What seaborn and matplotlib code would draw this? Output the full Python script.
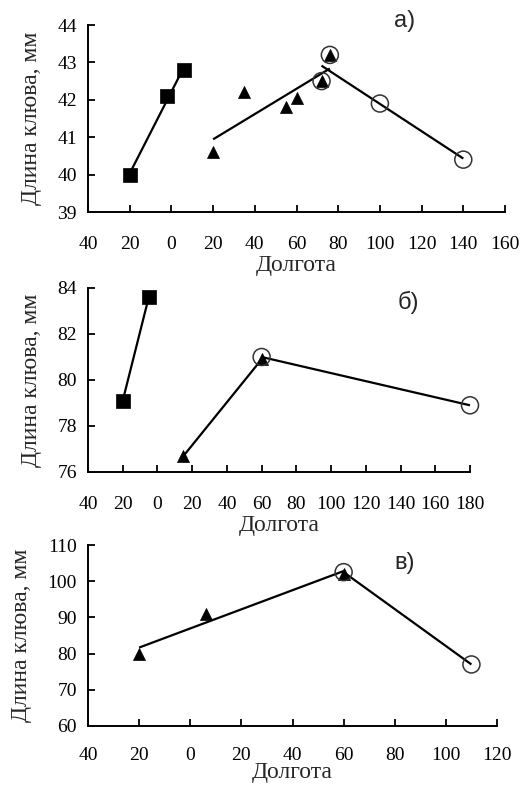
import matplotlib
matplotlib.use("Agg")
import matplotlib.pyplot as plt
from matplotlib.ticker import FuncFormatter, MultipleLocator
import numpy as np
import pandas as pd
import seaborn as sns

sns.set_style("ticks")
plt.rcParams["font.family"] = ["Liberation Serif", "DejaVu Serif"]

# Panel а): beak length vs longitude (west longitudes are negative)
a_sq_x = [-20, -2, 6]
a_sq_y = [40.0, 42.1, 42.8]
a_tri_x = [20, 35, 55, 60, 72, 76]
a_tri_y = [40.6, 42.2, 41.8, 42.05, 42.5, 43.2]
a_cir_x = [72, 76, 100, 140]
a_cir_y = [42.5, 43.2, 41.9, 40.4]

# Panel б)
b_sq_x = [-20, -5]
b_sq_y = [79.1, 83.6]
b_tri_x = [15, 60]
b_tri_y = [76.7, 80.9]
b_cir_x = [60, 180]
b_cir_y = [81.0, 78.9]

# Panel в)
c_tri_x = [-20, 6, 60]
c_tri_y = [80.0, 91.0, 102.0]
c_cir_x = [60, 110]
c_cir_y = [102.5, 77.0]

YLABEL = "Длина клюва, мм"
XLABEL = "Долгота"

fig = plt.figure(figsize=(5.31, 7.87), dpi=100)

abs_fmt = FuncFormatter(lambda v, p: f"{abs(v):.0f}")


def series(ax, xs, ys, marker, filled, size):
    df = pd.DataFrame({"x": xs, "y": ys})
    sns.regplot(data=df, x="x", y="y", ax=ax, scatter=False, ci=None,
                color="black", line_kws={"lw": 1.6, "solid_capstyle": "butt"})
    if filled:
        sns.scatterplot(data=df, x="x", y="y", ax=ax, marker=marker, s=size,
                        color="black", edgecolor="black", linewidth=0.5,
                        zorder=3, clip_on=False)
    else:
        sns.scatterplot(data=df, x="x", y="y", ax=ax, marker=marker, s=size,
                        facecolor="none", edgecolor="#333333", linewidth=1.1,
                        zorder=4, clip_on=False)


def style(ax, xlim, ylim, ystep, tag, tag_xy, xpad, xlabelpad):
    ax.set_xlim(*xlim)
    ax.set_ylim(*ylim)
    ax.xaxis.set_major_locator(MultipleLocator(20))
    ax.yaxis.set_major_locator(MultipleLocator(ystep))
    ax.xaxis.set_major_formatter(abs_fmt)
    ax.yaxis.set_major_formatter(FuncFormatter(lambda v, p: f"{v:.0f}"))
    sns.despine(ax=ax)
    for s in ("left", "bottom"):
        ax.spines[s].set_linewidth(1.4)
        ax.spines[s].set_color("black")
    ax.tick_params(axis="both", direction="in", length=5, width=1.3,
                   labelsize=14, colors="black")
    ax.tick_params(axis="x", pad=xpad)
    ax.tick_params(axis="y", pad=8)
    ax.set_xlabel(XLABEL, fontsize=17, labelpad=xlabelpad)
    ax.set_ylabel(YLABEL, fontsize=17, labelpad=11)
    ax.text(*tag_xy, tag, transform=ax.transAxes, fontsize=17,
            family=["Liberation Sans", "DejaVu Sans"], ha="left", va="center")


W, H = 531, 787


def box(l, r, t, b):
    return [l / W, 1 - b / H, (r - l) / W, (b - t) / H]


ax1 = fig.add_axes(box(88, 505, 25, 212))
series(ax1, a_sq_x, a_sq_y, "s", True, 90)
series(ax1, a_tri_x, a_tri_y, "^", True, 75)
series(ax1, a_cir_x, a_cir_y, "o", False, 150)
style(ax1, (-40, 160), (39, 44), 1, "а)", (0.735, 1.02), 17, 1.5)

ax2 = fig.add_axes(box(88, 470, 288, 472))
series(ax2, b_sq_x, b_sq_y, "s", True, 90)
series(ax2, b_tri_x, b_tri_y, "^", True, 75)
series(ax2, b_cir_x, b_cir_y, "o", False, 150)
style(ax2, (-40, 180), (76, 84), 2, "б)", (0.81, 0.92), 17, 1.5)

ax3 = fig.add_axes(box(88, 497, 545, 726))
series(ax3, c_tri_x, c_tri_y, "^", True, 75)
series(ax3, c_cir_x, c_cir_y, "o", False, 150)
style(ax3, (-40, 120), (60, 110), 10, "в)", (0.75, 0.9), 15, -1)

fig.savefig("out.png", dpi=100)
